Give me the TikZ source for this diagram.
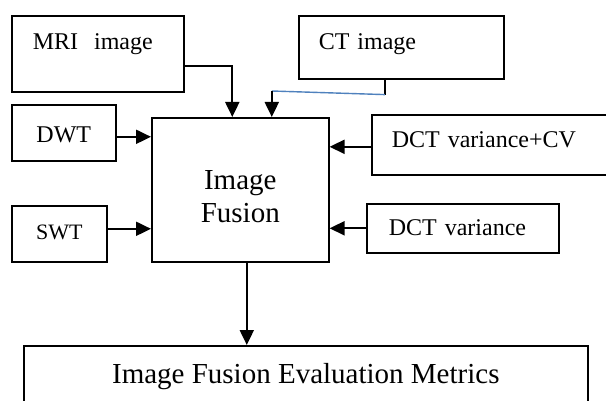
\documentclass[tikz,border=0pt]{standalone}
\usepackage{fontspec}
\setmainfont{Liberation Serif}
\usetikzlibrary{arrows.meta}

\definecolor{linkblue}{HTML}{4F81BD}

\tikzset{
  box/.style={draw, line width=1.6pt, inner ysep=0pt, font=\fontsize{24}{28}\selectfont},
  arr/.style={line width=2pt, -{Triangle[length=15pt,width=14pt]}}
}

\begin{document}
\begin{tikzpicture}[x=1pt, y=-1pt]
    \useasboundingbox (0,0) rectangle (606,401);
    \clip (0,0) rectangle (606,401);

    % Input boxes
    \node[box, anchor=north west, inner xsep=21pt, text width=130pt, align=left,
          text height=34pt, text depth=42pt] (mri) at (11,15) {MRI\ \ image};
    \node[box, anchor=north west, inner xsep=20pt, text width=165pt, align=left,
          text height=34pt, text depth=29pt] (ct) at (298,15) {CT image};

    % Transform boxes
    \node[box, anchor=north west, minimum width=104pt, text height=38pt, text depth=18pt] (dwt) at (11,104) {DWT};
    \node[box, anchor=north west, minimum width=95pt, text height=34pt, text depth=22pt,
          font=\fontsize{22}{26}\selectfont] (swt) at (11,205) {SWT};
    \node[box, anchor=north west, inner xsep=20pt, text width=240pt, align=left,
          text height=33pt, text depth=27pt] (dctcv) at (371,114) {DCT variance+CV};
    \node[box, anchor=north west, inner xsep=22pt, text width=148pt, align=left,
          text height=32pt, text depth=17pt] (dctvar) at (366,203) {DCT variance};

    % Fusion block
    \node[box, anchor=north west, minimum width=177pt, minimum height=144pt, align=center,
          font=\fontsize{29}{32}\selectfont] (fusion) at (151,117)
          {\raisebox{-33pt}[40pt][40pt]{\shortstack{Image\\[5pt]Fusion}}};

    % Metrics
    \node[box, anchor=north west, minimum width=564pt, text height=38pt, text depth=40pt,
          font=\fontsize{29}{32}\selectfont] (metrics) at (23,345) {Image Fusion Evaluation Metrics};

    % Connectors
    \draw[arr] ([yshift=-12pt]mri.east) -| ([xshift=-8pt]fusion.north);
    \draw[line width=1.6pt] ([xshift=-16.5pt]ct.south) -- ++(0,15) coordinate (ctbend);
    \draw[linkblue, line width=1.4pt] (ctbend) -- ([xshift=31.5pt]fusion.north |- 0,91) coordinate (ctdrop);
    \draw[arr] (ctdrop) -- ([xshift=31.5pt]fusion.north);
    \draw[arr] ([yshift=-4pt]dwt.east) -- ([yshift=-4pt]dwt.east -| fusion.west);
    \draw[arr] ([yshift=5pt]swt.east) -- ([yshift=5pt]swt.east -| fusion.west);
    \draw[arr] ([yshift=-2pt]dctcv.west) -- ([yshift=-2pt]dctcv.west -| fusion.east);
    \draw[arr] (dctvar.west) -- (dctvar.west -| fusion.east);
    \draw[arr] ([xshift=6.5pt]fusion.south) -- ([xshift=6.5pt]fusion.south |- metrics.north);
\end{tikzpicture}
\end{document}
